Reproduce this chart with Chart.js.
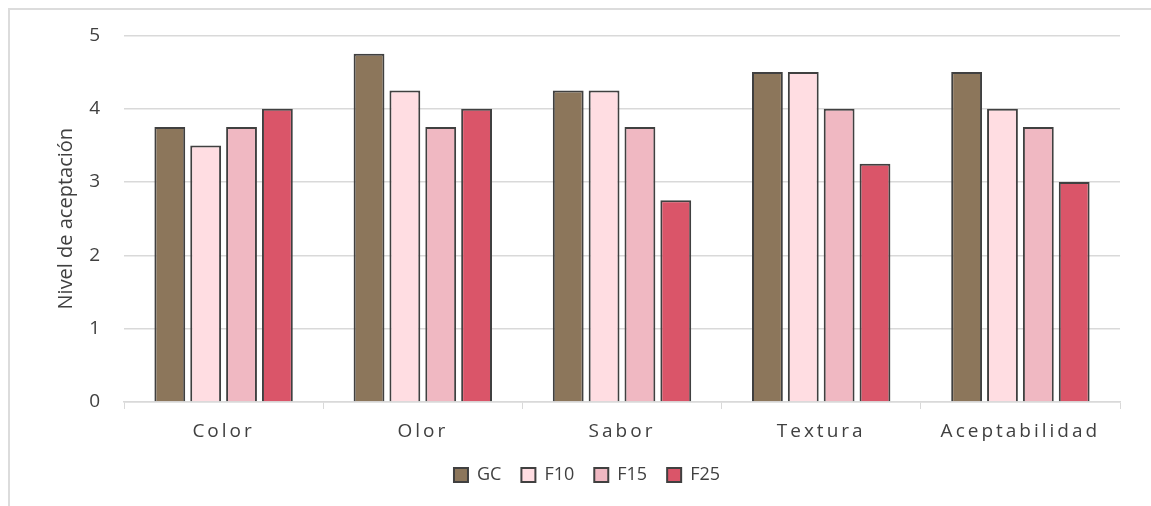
<!DOCTYPE html>
<html>
<head>
<meta charset="utf-8">
<script src="https://cdn.jsdelivr.net/npm/chart.js@4.4.1/dist/chart.umd.min.js"></script>
<style>
    body { margin: 0; background: #fff; }
    #frame { position: absolute; left: 8px; top: 8px; width: 1200px; height: 600px; border-top: 2px solid #dcdcdc; border-left: 2px solid #dcdcdc; }
    #wrap { position: absolute; left: 0; top: 0; width: 1151px; height: 506px; }
</style>
</head>
<body>
<div id="frame"></div>
<div id="wrap"><canvas id="chart"></canvas></div>
<script>
// Chart data
const categories = ['Color', 'Olor', 'Sabor', 'Textura', 'Aceptabilidad'];
const seriesNames = ['GC', 'F10', 'F15', 'F25'];
const gcValues = [3.75, 4.75, 4.25, 4.5, 4.5];
const f10Values = [3.5, 4.25, 4.25, 4.5, 4];
const f15Values = [3.75, 3.75, 3.75, 4, 3.75];
const f25Values = [4, 4, 2.75, 3.25, 3];
const yTicks = [0, 1, 2, 3, 4, 5];

const fills = ['#8c765b', '#ffdde2', '#f0b8c2', '#da5569'];
const allValues = [gcValues, f10Values, f15Values, f25Values];

// Spaced-out category labels (x ticks drawn after datasets with ticks.z = 1)
const letterSpacingPlugin = {
    id: 'letterSpacing',
    afterDatasetsDraw(chart) {
        chart.ctx.letterSpacing = '3px';
    },
    afterDraw(chart) {
        chart.ctx.letterSpacing = '0px';
    }
};

const ctx = document.getElementById('chart');
new Chart(ctx, {
    type: 'bar',
    data: {
        labels: categories,
        datasets: seriesNames.map((name, i) => ({
            label: name,
            data: allValues[i],
            backgroundColor: fills[i],
            borderColor: '#404040',
            borderWidth: 2,
            barPercentage: 0.86,
            categoryPercentage: 0.72
        }))
    },
    options: {
        responsive: true,
        maintainAspectRatio: false,
        animation: false,
        layout: {
            padding: { left: 54, right: 31, top: 18, bottom: 12 }
        },
        plugins: {
            legend: {
                position: 'bottom',
                labels: {
                    color: '#404040',
                    font: { family: 'Open Sans', size: 18 },
                    boxWidth: 14,
                    boxHeight: 14,
                    padding: 20
                }
            },
            tooltip: { enabled: false }
        },
        scales: {
            x: {
                grid: {
                    display: true,
                    drawOnChartArea: false,
                    drawTicks: true,
                    tickLength: 7,
                    color: '#d9d9d9'
                },
                border: { color: '#d9d9d9', width: 1.5 },
                ticks: {
                    z: 1,
                    color: '#404040',
                    font: { family: 'Open Sans', size: 19 },
                    padding: 11
                },
                afterFit(scale) { scale.height = 44; }
            },
            y: {
                min: 0,
                max: 5,
                afterBuildTicks(scale) {
                    scale.ticks = yTicks.map(v => ({ value: v }));
                },
                grid: { color: '#d9d9d9', lineWidth: 1.5, drawTicks: false },
                border: { display: false },
                ticks: {
                    color: '#404040',
                    font: { family: 'Open Sans', size: 19 },
                    padding: 24
                },
                title: {
                    display: true,
                    text: 'Nivel de aceptación',
                    color: '#404040',
                    font: { family: 'Open Sans', size: 20 },
                    padding: 0
                },
                afterFit(scale) { scale.width = 70; }
            }
        }
    },
    plugins: [letterSpacingPlugin]
});
</script>
</body>
</html>
